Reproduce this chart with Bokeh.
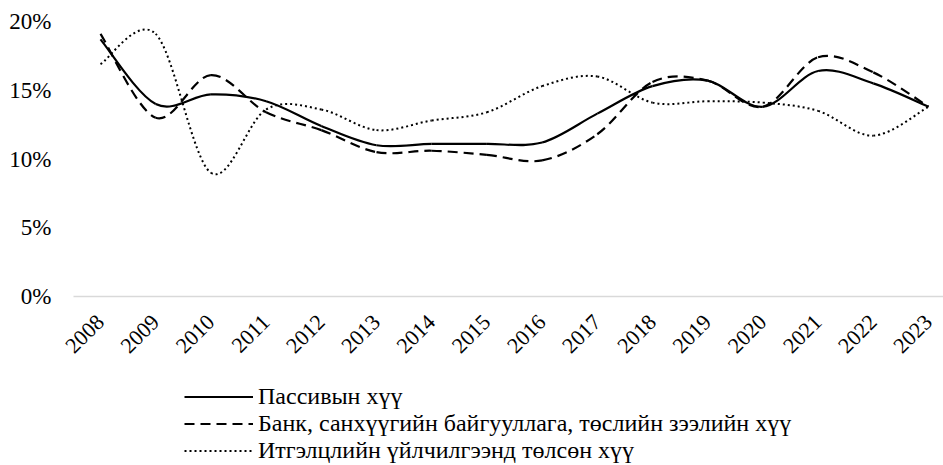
import numpy as np
from bokeh.plotting import figure
from bokeh.layouts import column
from bokeh.models import Range1d, FixedTicker, Legend, LegendItem, PrintfTickFormatter
from bokeh.embed import file_html
from bokeh.resources import INLINE

# ---- data ----
years = ["2008", "2009", "2010", "2011", "2012", "2013", "2014", "2015",
         "2016", "2017", "2018", "2019", "2020", "2021", "2022", "2023"]
passive = [18.7, 14.0, 14.7, 14.2, 12.4, 11.0, 11.1, 11.1,
           11.2, 13.3, 15.3, 15.7, 13.8, 16.4, 15.5, 13.8]
bank = [19.1, 13.0, 16.1, 13.4, 12.1, 10.5, 10.6, 10.3,
        9.9, 11.8, 15.6, 15.7, 13.8, 17.4, 16.3, 13.8]
trust = [16.9, 19.1, 9.0, 13.6, 13.6, 12.1, 12.8, 13.4,
         15.3, 16.0, 14.1, 14.2, 14.1, 13.5, 11.7, 13.8]
series_names = ["Пассивын хүү",
                "Банк, санхүүгийн байгууллага, төслийн зээлийн хүү",
                "Итгэлцлийн үйлчилгээнд төлсөн хүү"]
y_ticks = [0, 5, 10, 15, 20]

FONT = "Liberation Serif"


def smooth_segments(vals):
    """Bezier segments (Catmull-Rom style, like a smoothed spreadsheet line)."""
    y = np.asarray(vals, dtype=float)
    x = np.arange(len(y), dtype=float)
    xp = np.concatenate([[x[0]], x, [x[-1]]])
    yp = np.concatenate([[y[0]], y, [y[-1]]])
    return dict(
        x0=x[:-1], y0=y[:-1], x1=x[1:], y1=y[1:],
        cx0=x[:-1] + (xp[2:-1] - xp[:-3]) / 6.0,
        cy0=y[:-1] + (yp[2:-1] - yp[:-3]) / 6.0,
        cx1=x[1:] - (xp[3:] - xp[1:-2]) / 6.0,
        cy1=y[1:] - (yp[3:] - yp[1:-2]) / 6.0,
    )


# ---- main chart ----
p = figure(width=943, height=376,
           x_range=Range1d(-0.489, 15.272), y_range=Range1d(0, 20),
           output_backend="svg", toolbar_location=None,
           min_border_left=73, min_border_right=0,
           min_border_top=21, min_border_bottom=80)

p.xgrid.visible = False
p.ygrid.visible = False
p.outline_line_color = None
p.background_fill_color = "white"
p.border_fill_color = "white"

styles = [
    dict(line_color="black", line_width=2.2, line_dash="solid"),
    dict(line_color="black", line_width=2.2, line_dash="10 6"),
    dict(line_color="black", line_width=2.0, line_dash="2 3"),
]

all_series = [passive, bank, trust]
for vals, st in zip(all_series, styles):
    seg = smooth_segments(vals)
    p.bezier(x0="x0", y0="y0", x1="x1", y1="y1",
             cx0="cx0", cy0="cy0", cx1="cx1", cy1="cy1",
             source=seg, **st)

# x axis
xa = p.xaxis[0]
xa.ticker = FixedTicker(ticks=list(range(len(years))))
xa.major_label_overrides = {i: y for i, y in enumerate(years)}
xa.major_tick_line_color = None
xa.minor_tick_line_color = None
xa.axis_line_color = "#d9d9d9"
xa.axis_line_width = 1.5
xa.major_label_orientation = np.pi / 4
xa.major_label_standoff = 16
xa.major_label_text_font = FONT
xa.major_label_text_font_size = "22px"
xa.major_label_text_color = "black"

# y axis
ya = p.yaxis[0]
ya.ticker = FixedTicker(ticks=y_ticks)
ya.formatter = PrintfTickFormatter(format="%d%%")
ya.axis_line_color = None
ya.major_tick_line_color = None
ya.minor_tick_line_color = None
ya.major_label_standoff = 16
ya.major_label_text_font = FONT
ya.major_label_text_font_size = "23px"
ya.major_label_text_color = "black"

# ---- legend strip below the chart ----
lg = figure(width=943, height=89, x_range=Range1d(0, 1), y_range=Range1d(-2, -1),
            output_backend="svg", toolbar_location=None,
            x_axis_location=None, y_axis_location=None,
            min_border_left=0, min_border_right=0,
            min_border_top=0, min_border_bottom=0)
lg.xgrid.visible = False
lg.ygrid.visible = False
lg.outline_line_color = None

items = []
for name, vals, st in zip(series_names, all_series, styles):
    # same series, lying outside this strip's visible range: used only as legend keys
    r = lg.line(x=list(range(len(vals))), y=vals, **st)
    items.append(LegendItem(label=name, renderers=[r]))

legend = Legend(items=items, location=(111, 1),
                glyph_width=69, glyph_height=27, label_height=27,
                label_standoff=5, spacing=0, padding=0, margin=0,
                border_line_color=None, background_fill_alpha=0,
                label_text_font=FONT, label_text_font_size="24px",
                label_text_color="black")
lg.add_layout(legend)

layout = column(p, lg, spacing=0)
open("out.html", "w").write(file_html(layout, INLINE))
